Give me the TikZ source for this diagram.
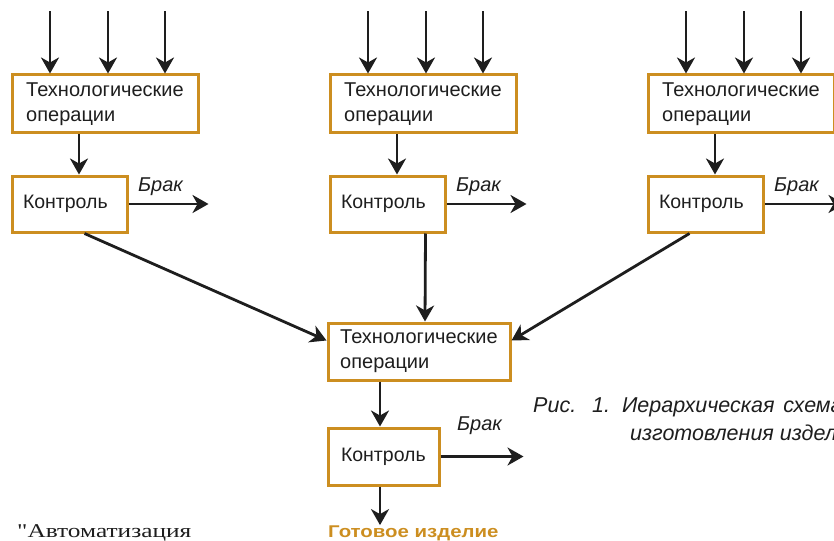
\documentclass[tikz,border=0pt]{standalone}
\usepackage{fontspec}
\setmainfont{Liberation Sans}
\newfontfamily\bookfont{Liberation Serif}[FakeStretch=1.3]
\newfontfamily\donefont{Liberation Sans Bold}[FakeStretch=1.2]
\usetikzlibrary{arrows.meta}
\definecolor{ochre}{RGB}{204,142,32}
\definecolor{ink}{RGB}{30,30,30}
\begin{document}
\begin{tikzpicture}[x=1pt,y=-1pt,
  opbox/.style={draw=ochre,line width=3pt,minimum width=186pt,minimum height=58pt,
    align=left,inner sep=0pt,text=ink,font=\fontsize{20}{25}\selectfont},
  ctlbox/.style={draw=ochre,line width=3pt,minimum width=115pt,minimum height=56pt,
    text width=93pt,align=left,inner sep=0pt,text=ink,font=\fontsize{19.5}{20}\selectfont},
  arr/.style={draw=ink,line width=2.8pt,-{Stealth[length=16pt,width=18pt,inset=5pt]}},
  brak/.style={above=7pt,inner sep=0pt,text=ink,font=\fontsize{20}{20}\selectfont\itshape},
  caption/.style={inner sep=0pt,text=ink,font=\fontsize{21.5}{25}\selectfont\itshape},
  done/.style={inner sep=0pt,text=ochre,font=\donefont\fontsize{17}{20}\selectfont}]
\useasboundingbox (0,0) rectangle (834,540);
\clip (0,0) rectangle (834,540);
% three lines of operations
\foreach \c/\x in {A/105,B/423,C/741}{
  \node[opbox] (op\c) at (\x,104) {Технологические\\операции};
  \node[ctlbox] (ctl\c) at (\x-35.5,204) {Контроль};
  \foreach \dx in {-55,3,60}
    \draw[arr] ([xshift=\dx pt,yshift=62pt]op\c.north) -- ([xshift=\dx pt]op\c.north);
  \draw[arr] ([xshift=-26pt]op\c.south) -- ([xshift=-26pt]op\c.south |- ctl\c.north);
  \coordinate (rej\c) at ([xshift=80pt]ctl\c.east);
  \draw[arr] (ctl\c) -- (rej\c) node[brak,pos=0.4] {Брак};
}
% assembly
\node[opbox,minimum width=182pt,minimum height=57pt] (opM) at (419,351.5) {Технологические\\операции};
\node[ctlbox,minimum width=111pt,minimum height=57pt,text width=85pt] (ctlM) at (383.5,456.5) {Контроль};
\node[done,anchor=base west] (done) at (328,537) {Готовое изделие};
\draw[arr] ([xshift=15pt]ctlA.south) -- ([yshift=11pt]opM.west);
\draw[arr] ([xshift=38pt]ctlB.south) -- ([xshift=6pt]opM.north);
\draw[arr] ([xshift=-16pt]ctlC.south) -- ([yshift=11pt]opM.east);
\draw[arr] ([xshift=-39pt]opM.south) -- ([xshift=-39pt]opM.south |- ctlM.north);
\coordinate (rejM) at ([xshift=83pt]ctlM.east);
\draw[arr] (ctlM) -- (rejM) node[brak,pos=0.47,above=13pt] {Брак};
\draw[arr] ([xshift=-3.5pt]ctlM.south) -- ([xshift=-3.5pt]ctlM.south |- done.north);
% caption
\node[caption,anchor=base west] (cap1) at (533,412) {Рис.\hspace{16pt}1.\hspace{4pt} Иерархическая\hspace{3pt} схема};
\node[caption,anchor=base west] (cap2) at (630,440) {изготовления изделия};
\node[inner sep=0pt,anchor=base west,text=ink,font=\bookfont\fontsize{19.5}{20}\selectfont] (src) at (17,537) {"Автоматизация};
\end{tikzpicture}
\end{document}
